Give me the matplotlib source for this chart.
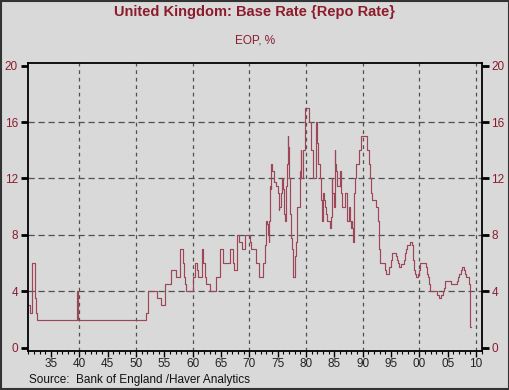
import matplotlib
matplotlib.use("Agg")
import matplotlib.pyplot as plt
from matplotlib.ticker import MultipleLocator, FixedLocator, FixedFormatter
from matplotlib.patches import Rectangle

plt.rcParams['font.family'] = ['Liberation Sans', 'DejaVu Sans']

title = "United Kingdom: Base Rate {Repo Rate}"
subtitle = "EOP, %"
source = "Source:  Bank of England /Haver Analytics"

# change points (decimal year) and rate (%) - step series
rate_dates = [
    1931.00, 1931.37, 1931.56, 1931.58, 1931.72, 1932.13, 1932.20, 1932.25, 1932.29, 1932.35, 1932.50,
    1939.65, 1939.74, 1939.82,
    1951.85, 1952.20, 1953.71, 1954.37, 1955.07, 1955.13, 1956.13, 1957.12, 1957.72,
    1958.22, 1958.39, 1958.47, 1958.62, 1958.89,
    1960.05, 1960.48, 1960.81, 1960.93, 1961.57, 1961.76, 1961.85, 1962.20, 1962.23, 1962.32,
    1963.01, 1964.07, 1964.90, 1965.43, 1966.54, 1967.07, 1967.17, 1967.35, 1967.80, 1967.85, 1967.89,
    1968.22, 1968.71, 1969.16, 1970.20, 1970.30, 1971.26, 1971.68, 1972.48, 1972.78, 1972.97,
    1973.05, 1973.30, 1973.40, 1973.55, 1973.57, 1973.80, 1973.87,
    1974.05, 1974.30, 1974.40, 1974.70,
    1975.05, 1975.15, 1975.25, 1975.30, 1975.55, 1975.78, 1975.90,
    1976.05, 1976.15, 1976.25, 1976.40, 1976.42, 1976.72, 1976.78, 1976.90,
    1977.00, 1977.05, 1977.12, 1977.20, 1977.30, 1977.40, 1977.55, 1977.62, 1977.70, 1977.78,
    1978.02, 1978.28, 1978.35, 1978.45, 1978.87,
    1979.10, 1979.20, 1979.45, 1979.87, 1980.55, 1980.90,
    1981.20, 1981.70, 1981.78, 1981.85, 1981.92,
    1982.05, 1982.20, 1982.45, 1982.55, 1982.62, 1982.70, 1982.78, 1982.85,
    1983.02, 1983.20, 1983.30, 1983.45, 1983.77,
    1984.20, 1984.40, 1984.52, 1984.62, 1984.85,
    1985.03, 1985.20, 1985.30, 1985.55,
    1986.02, 1986.20, 1986.30, 1986.38, 1986.80,
    1987.20, 1987.30, 1987.62, 1987.82, 1987.95,
    1988.12, 1988.20, 1988.35, 1988.45, 1988.50, 1988.55, 1988.65, 1988.88,
    1989.40, 1989.78, 1990.77,
    1991.10, 1991.25, 1991.40, 1991.55, 1991.70,
    1992.35, 1992.72, 1992.80, 1992.87, 1993.07, 1993.90,
    1994.12, 1994.70, 1994.95, 1995.12, 1995.95,
    1996.05, 1996.20, 1996.45, 1996.83,
    1997.35, 1997.45, 1997.55, 1997.60, 1997.85,
    1998.43, 1998.78, 1998.85, 1998.95,
    1999.02, 1999.10, 1999.28, 1999.45, 1999.68, 1999.85,
    2000.03, 2000.12,
    2001.12, 2001.28, 2001.35, 2001.60, 2001.70, 2001.78, 2001.85,
    2003.10, 2003.52, 2003.85,
    2004.10, 2004.35, 2004.45, 2004.60,
    2005.60, 2006.60, 2006.87,
    2007.03, 2007.37, 2007.52, 2007.95,
    2008.12, 2008.28, 2008.77, 2008.85, 2008.93, 2009.02, 2009.08,
]
rate_values = [
    3.0, 2.5, 3.5, 4.5, 6.0, 5.0, 4.0, 3.5, 3.0, 2.5, 2.0,
    4.0, 3.0, 2.0,
    2.5, 4.0, 3.5, 3.0, 3.5, 4.5, 5.5, 5.0, 7.0,
    6.0, 5.5, 5.0, 4.5, 4.0,
    5.0, 6.0, 5.5, 5.0, 7.0, 6.5, 6.0, 5.5, 5.0, 4.5,
    4.0, 5.0, 7.0, 6.0, 7.0, 6.5, 6.0, 5.5, 6.0, 6.5, 8.0,
    7.5, 7.0, 8.0, 7.5, 7.0, 6.0, 5.0, 6.0, 7.25, 9.0,
    8.75, 8.0, 7.5, 9.0, 11.5, 11.25, 13.0,
    12.5, 12.0, 11.75, 11.5,
    11.0, 10.0, 9.75, 10.0, 11.0, 12.0, 11.25,
    10.5, 9.5, 9.0, 10.5, 11.5, 13.0, 15.0, 14.25,
    13.25, 12.0, 11.0, 9.5, 8.25, 7.75, 7.0, 6.0, 5.5, 5.0,
    6.5, 7.5, 9.0, 10.0, 12.5,
    14.0, 12.0, 14.0, 17.0, 16.0, 14.0,
    12.0, 14.0, 16.0, 15.0, 14.5,
    14.0, 13.0, 12.5, 12.0, 11.0, 10.5, 10.0, 9.0,
    11.0, 10.5, 10.0, 9.5, 9.0,
    8.5, 9.25, 12.0, 11.0, 10.0,
    14.0, 13.0, 12.5, 11.5,
    12.5, 11.0, 10.5, 10.0, 11.0,
    10.0, 9.0, 10.0, 9.0, 8.5,
    9.0, 8.5, 7.5, 8.5, 10.0, 11.0, 12.0, 13.0,
    14.0, 15.0, 14.0,
    13.0, 12.0, 11.5, 11.0, 10.5,
    10.0, 9.0, 8.0, 7.0, 6.0, 5.5,
    5.25, 5.75, 6.25, 6.75, 6.5,
    6.25, 6.0, 5.75, 5.94,
    6.25, 6.5, 6.75, 7.0, 7.25,
    7.5, 7.25, 6.75, 6.25,
    6.0, 5.5, 5.25, 5.0, 5.25, 5.5,
    5.75, 6.0,
    5.75, 5.5, 5.25, 5.0, 4.75, 4.5, 4.0,
    3.75, 3.5, 3.75,
    4.0, 4.25, 4.5, 4.75,
    4.5, 4.75, 5.0,
    5.25, 5.5, 5.75, 5.5,
    5.25, 5.0, 4.5, 3.0, 2.0, 1.5, 1.5,
]

y_ticks = [0, 4, 8, 12, 16, 20]
x_major = [1935, 1940, 1945, 1950, 1955, 1960, 1965, 1970, 1975, 1980, 1985, 1990, 1995, 2000, 2005, 2010]
x_labels = ["35", "40", "45", "50", "55", "60", "65", "70", "75", "80", "85", "90", "95", "00", "05", "10"]
x_grid = [1940, 1950, 1960, 1970, 1980, 1990, 2000, 2010]

bg = '#d9d9d9'
red = '#8c1c2c'

fig = plt.figure(figsize=(5.1, 3.9), dpi=100, facecolor=bg)
ax = fig.add_axes([0.054, 0.101, 0.8905, 0.738])
ax.set_facecolor(bg)

ax.plot(rate_dates, rate_values, drawstyle='steps-post', color='#9e4656', lw=0.85)

ax.set_xlim(1930.86, 2011.0)
ax.set_ylim(-0.2, 20.2)

# grid
for gx in x_grid:
    ax.axvline(gx, color='#505050', lw=0.9, ls=(0, (3, 3)), zorder=0)
for gy in [4, 8, 12, 16]:
    ax.axhline(gy, color='#505050', lw=0.9, ls=(0, (5, 3)), zorder=0)

for s in ax.spines.values():
    s.set_linewidth(1.3)
    s.set_color('black')

ax.set_yticks(y_ticks)
ax.tick_params(axis='y', which='major', direction='out', length=5, width=2,
               labelsize=8.5, labelcolor=red, left=True, right=True,
               labelleft=True, labelright=True, pad=2)
ax.xaxis.set_major_locator(FixedLocator(x_major))
ax.xaxis.set_major_formatter(FixedFormatter(x_labels))
ax.xaxis.set_minor_locator(MultipleLocator(1))
ax.tick_params(axis='x', which='major', direction='out', length=4, width=1,
               labelsize=8.5, labelcolor='#222222', pad=1)
ax.tick_params(axis='x', which='minor', direction='out', length=2.5, width=0.8)

fig.text(0.5, 0.968, title, ha='center', va='center', fontsize=10.5,
         color=red, fontweight='bold')
fig.text(0.5, 0.897, subtitle, ha='center', va='center', fontsize=8.5, color=red)
fig.text(0.057, 0.025, source, ha='left', va='center', fontsize=8.5, color='#111111')

fig.patches.append(Rectangle((0.002, 0.003), 0.996, 0.994, transform=fig.transFigure,
                             fill=False, edgecolor='#333333', lw=1.5))

fig.savefig('out.png', dpi=100, facecolor=bg)
